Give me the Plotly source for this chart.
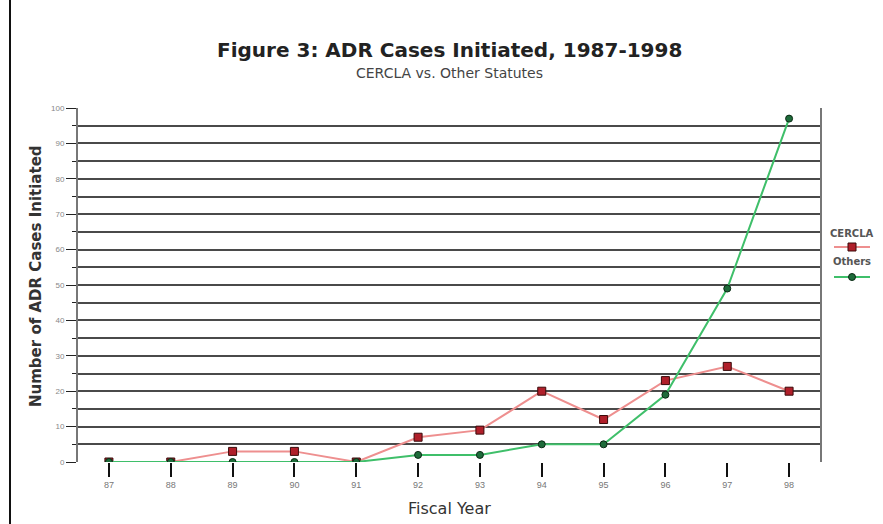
import plotly.graph_objects as go

years = ["87", "88", "89", "90", "91", "92", "93", "94", "95", "96", "97", "98"]
cercla = [0, 0, 3, 3, 0, 7, 9, 20, 12, 23, 27, 20]
others = [0, 0, 0, 0, 0, 2, 2, 5, 5, 19, 49, 97]
y_ticks = list(range(0, 101, 10))

FONT = "DejaVu Sans, Liberation Sans, Arial, sans-serif"
AX = "Liberation Sans, Arial, sans-serif"

fig = go.Figure()
fig.add_trace(go.Scatter(
    x=years, y=cercla, name="CERCLA", mode="lines+markers",
    line=dict(color="#ee8f8f", width=2),
    marker=dict(symbol="square", size=8, color="#b01f2a", line=dict(color="#3a0a0a", width=1)),
))
fig.add_trace(go.Scatter(
    x=years, y=others, name="Others", mode="lines+markers",
    line=dict(color="#3fbf6a", width=2),
    marker=dict(symbol="circle", size=7, color="#1e6b3a", line=dict(color="#0a2a14", width=1)),
))

fig.update_layout(
    width=883, height=524,
    margin=dict(l=78, r=63, t=108, b=62),
    paper_bgcolor="white", plot_bgcolor="white",
    showlegend=False,
    font=dict(family=AX, color="#333"),
)
fig.update_xaxes(
    type="category", range=[-0.5, 11.5],
    showgrid=False, zeroline=False, showline=False,
    ticks="outside", ticklen=14, tickwidth=2, tickcolor="#111",
    tickfont=dict(size=9, color="#777"),
)
fig.update_yaxes(
    range=[0, 100], tickvals=y_ticks,
    showgrid=True, gridcolor="#4a4a4a", gridwidth=2,
    minor=dict(dtick=5, showgrid=True, gridcolor="#4a4a4a", gridwidth=2,
               ticks="outside", ticklen=4, tickcolor="#222"),
    zeroline=False, showline=True, linecolor="#777", linewidth=2, mirror=True,
    ticks="outside", ticklen=10, tickcolor="#222", tickwidth=1,
    tickfont=dict(size=8, color="#888"),
)

# Titles
fig.add_annotation(text="<b>Figure 3: ADR Cases Initiated, 1987-1998</b>", xref="paper", yref="paper",
                   x=0.5, y=1.0, yshift=72, showarrow=False, font=dict(size=20, color="#222", family=FONT))
fig.add_annotation(text="CERCLA vs. Other Statutes", xref="paper", yref="paper",
                   x=0.5, y=1.0, yshift=45, showarrow=False, font=dict(size=14, color="#444", family=FONT))
fig.add_annotation(text="Fiscal Year", xref="paper", yref="paper",
                   x=0.5, y=0, yshift=-58, showarrow=False, font=dict(size=16, color="#333", family=FONT))
fig.add_annotation(text="<b>Number of ADR Cases Initiated</b>", xref="paper", yref="paper",
                   x=0, xshift=-53, y=(462 - 276) / 354, textangle=-90, showarrow=False,
                   font=dict(size=15, color="#333", family=FONT))

# Custom legend (text above symbol)
lx = 1.0 + (852 - 820) / 742
def py(v):
    return (462 - v) / 354
fig.add_annotation(text="<b>CERCLA</b>", xref="paper", yref="paper", x=lx, y=py(233),
                   xanchor="center", yanchor="middle",
                   showarrow=False, font=dict(size=10, color="#555", family=FONT))
fig.add_annotation(text="<b>Others</b>", xref="paper", yref="paper", x=lx, y=py(261),
                   xanchor="center", yanchor="middle",
                   showarrow=False, font=dict(size=10, color="#555", family=FONT))
dx = 18 / 742
fig.add_shape(type="line", xref="paper", yref="paper", x0=lx - dx, x1=lx + dx, y0=py(247), y1=py(247),
              line=dict(color="#ee8f8f", width=2))
fig.add_shape(type="rect", xref="paper", yref="paper", x0=lx - 4/742, x1=lx + 4/742,
              y0=py(251), y1=py(243), fillcolor="#b01f2a", line=dict(color="#3a0a0a", width=1))
fig.add_shape(type="line", xref="paper", yref="paper", x0=lx - dx, x1=lx + dx, y0=py(277), y1=py(277),
              line=dict(color="#3fbf6a", width=2))
fig.add_shape(type="circle", xref="paper", yref="paper", x0=lx - 3.5/742, x1=lx + 3.5/742,
              y0=py(280.5), y1=py(273.5), fillcolor="#1e6b3a", line=dict(color="#0a2a14", width=1))

# Left page border line
fig.add_shape(type="line", xref="paper", yref="paper", x0=(10 - 78) / 742, x1=(10 - 78) / 742,
              y0=py(524), y1=py(0), line=dict(color="#111", width=2))

fig.write_html("out.html", config={"displayModeBar": False},
               post_script="document.body.style.margin='0';document.body.style.overflow='hidden';")
